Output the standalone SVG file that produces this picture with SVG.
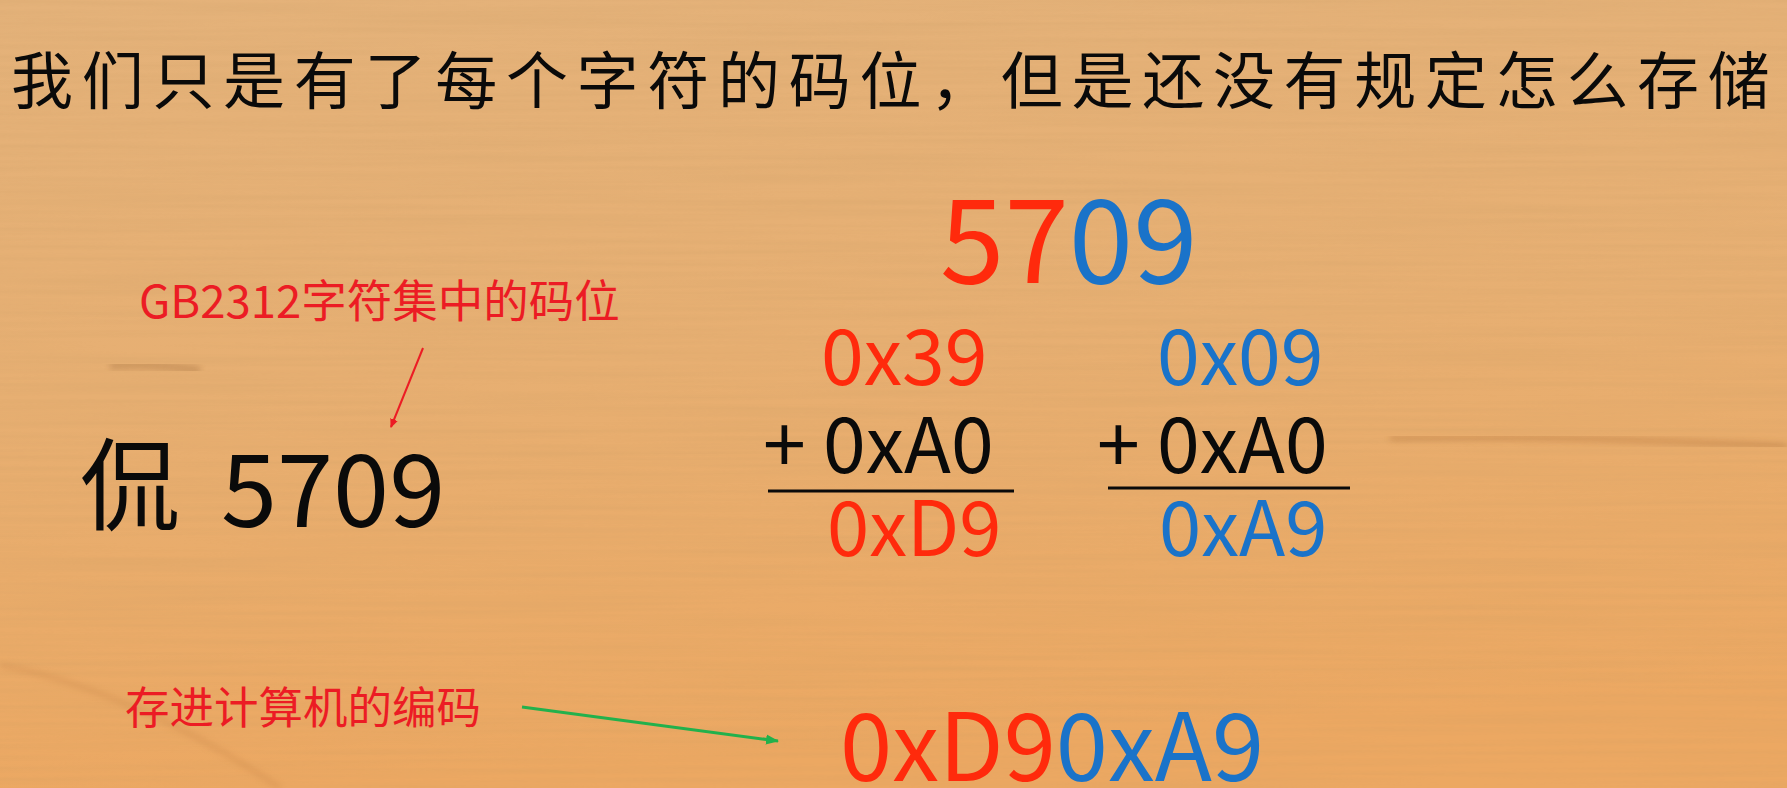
<svg xmlns="http://www.w3.org/2000/svg" width="1787" height="788" viewBox="0 0 1787 788">
  <style>
    .cjk { font-family: "Noto Sans CJK SC", "Noto Sans", sans-serif; }
    .num { font-family: "Noto Sans CJK SC", "Noto Sans", sans-serif; }
    .red { fill: #ff2a0c; }
    .blue { fill: #1a73c9; }
    .blk { fill: #0a0a0a; }
    .lbl { fill: #ec1c24; }
  </style>
  <defs>
    <linearGradient id="wood" x1="0" y1="0" x2="0.15" y2="1">
      <stop offset="0" stop-color="#e4b27a"/>
      <stop offset="0.5" stop-color="#e7af72"/>
      <stop offset="1" stop-color="#eca862"/>
    </linearGradient>
    <filter id="grain" x="0" y="0" width="100%" height="100%">
      <feTurbulence type="fractalNoise" baseFrequency="0.003 0.18" numOctaves="3" seed="7"/>
      <feColorMatrix type="matrix" values="0 0 0 0 0.55  0 0 0 0 0.32  0 0 0 0 0.12  0 0 0 -1.4 0.95"/>
    </filter>
    <filter id="soft"><feGaussianBlur stdDeviation="3"/></filter>
    <marker id="ahRed" markerWidth="10" markerHeight="10" refX="8" refY="5" orient="auto" markerUnits="userSpaceOnUse">
      <path d="M0,1 L9,5 L0,9 Z" fill="#ec1c24"/>
    </marker>
    <marker id="ahGreen" markerWidth="14" markerHeight="12" refX="12" refY="6" orient="auto" markerUnits="userSpaceOnUse">
      <path d="M0,1 L13,6 L0,11 Z" fill="#22b14c"/>
    </marker>
  </defs>

  <g id="background">
    <rect width="1787" height="788" fill="url(#wood)"/>
    <rect width="1787" height="788" filter="url(#grain)" opacity="0.2"/>
    <path d="M1390,438 C1500,436 1650,440 1787,446" stroke="#9a5a28" stroke-width="4" fill="none" opacity="0.4" filter="url(#soft)"/>
    <path d="M110,366 C140,364 170,366 200,370" stroke="#7a4a20" stroke-width="6" fill="none" opacity="0.3" filter="url(#soft)"/>
    <path d="M0,665 C80,680 180,720 280,788" stroke="#b9773c" stroke-width="5" fill="none" opacity="0.25" filter="url(#soft)"/>
  </g>

  <g id="title">
    <text class="cjk blk" x="11" y="104" font-size="62" letter-spacing="8.7">我们只是有了每个字符的码位，但是还没有规定怎么存储</text>
  </g>

  <g id="label-codepoint">
    <text class="cjk lbl" x="139" y="318" font-size="45.5">GB2312字符集中的码位</text>
  </g>

  <g id="char-code">
    <text class="cjk blk" x="80" y="522" font-size="100">侃</text>
    <text class="num blk" x="221" y="527" font-size="101">5709</text>
  </g>

  <g id="big-code">
    <text class="num" x="940" y="283" font-size="116"><tspan class="red">57</tspan><tspan class="blue">09</tspan></text>
  </g>

  <g id="sum-left">
    <text class="num red" x="821" y="385" font-size="77">0x39</text>
    <text class="num blk" x="763" y="473" font-size="77">+ 0xA0</text>
    <line x1="768" y1="491" x2="1014" y2="491" stroke="#0a0a0a" stroke-width="3"/>
    <text class="num red" x="827" y="556" font-size="76">0xD9</text>
  </g>

  <g id="sum-right">
    <text class="num blue" x="1157" y="385" font-size="77">0x09</text>
    <text class="num blk" x="1097" y="473" font-size="77">+ 0xA0</text>
    <line x1="1108" y1="488" x2="1350" y2="488" stroke="#0a0a0a" stroke-width="3"/>
    <text class="num blue" x="1159" y="556" font-size="76">0xA9</text>
  </g>

  <g id="label-stored">
    <text class="cjk lbl" x="125" y="724" font-size="44.5">存进计算机的编码</text>
  </g>

  <g id="result">
    <text class="num" x="840" y="781" font-size="94"><tspan class="red">0xD9</tspan><tspan class="blue">0xA9</tspan></text>
  </g>

  <g id="connectors">
    <line x1="423" y1="348" x2="391" y2="427" stroke="#ec1c24" stroke-width="2" marker-end="url(#ahRed)"/>
    <line x1="522" y1="707" x2="778" y2="741" stroke="#22b14c" stroke-width="3" marker-end="url(#ahGreen)"/>
  </g>
</svg>
